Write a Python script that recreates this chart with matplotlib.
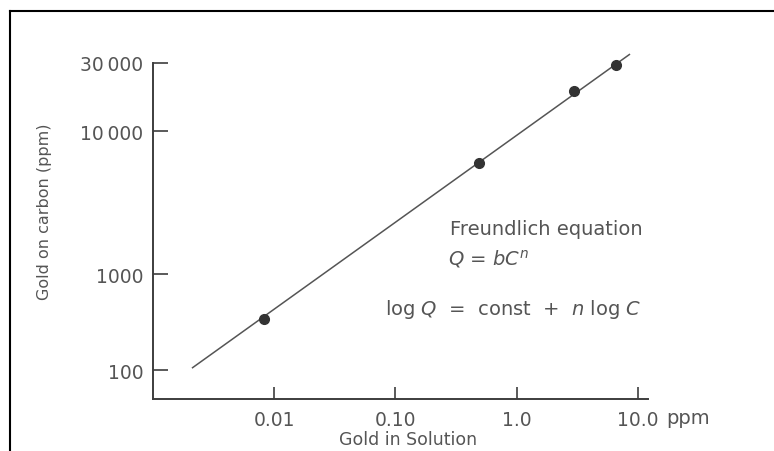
import numpy as np
import matplotlib
matplotlib.use("Agg")
import matplotlib.pyplot as plt
from matplotlib.lines import Line2D
from matplotlib.ticker import NullLocator

plt.rcParams['font.family'] = ['DejaVu Sans']
plt.rcParams['mathtext.fontset'] = 'dejavusans'

# measured isotherm points: gold in solution (ppm) vs gold on carbon (ppm)
conc = [0.0083, 0.49, 2.97, 6.6]
loading = [340, 5970, 19200, 29000]

# fitted Freundlich line, end to end
fit_conc = [0.00212, 8.5]
fit_loading = [106, 34400]

xticks = [0.01, 0.1, 1.0, 10.0]
xtick_labels = ['0.01', '0.10', '1.0', '10.0']
yticks = [100, 1000, 10000, 30000]
ytick_labels = ['100', '1000', '10\u2009000', '30\u2009000']

# the bottom decade of the carbon axis is drawn compressed
LOWER = 96 / 143


def fwd(q):
    q = np.asarray(q, dtype=float)
    with np.errstate(divide='ignore', invalid='ignore'):
        lq = np.log10(q)
    return np.where(lq >= 3, lq, 3 - (3 - lq) * LOWER)


def inv(u):
    u = np.asarray(u, dtype=float)
    return np.where(u >= 3, 10.0 ** u, 10.0 ** (3 - (3 - u) / LOWER))


text_c = '#555555'
axis_c = '#3d3d3d'

fig = plt.figure(figsize=(7.74, 4.52), dpi=100)
ax = fig.add_axes([153 / 774, 52 / 452, 495 / 774, 336 / 452])

ax.set_xscale('log')
ax.set_yscale('function', functions=(fwd, inv))
ax.set_xlim(0.001, 12.1)
ax.set_ylim(50, 30000)

ax.plot(fit_conc, fit_loading, color='#555555', lw=1.1, clip_on=False)
ax.plot(conc, loading, 'o', color='#333333', ms=7, clip_on=False)

ax.set_xticks(xticks, labels=xtick_labels)
ax.set_yticks(yticks, labels=ytick_labels)
ax.xaxis.set_minor_locator(NullLocator())
ax.yaxis.set_minor_locator(NullLocator())

for side in ('top', 'right'):
    ax.spines[side].set_visible(False)
for side in ('left', 'bottom'):
    ax.spines[side].set_color(axis_c)
    ax.spines[side].set_linewidth(1.4)

ax.tick_params(axis='y', direction='in', length=10.5, width=1.2, color=axis_c,
               pad=7, labelsize=13.5, labelcolor=text_c)
ax.tick_params(axis='x', direction='in', length=8.5, width=1.2, color=axis_c,
               pad=8, labelsize=13.5, labelcolor=text_c)

ax.set_ylabel('Gold on carbon (ppm)', fontsize=11.5, color=text_c)
ax.yaxis.set_label_coords(-0.205, 0.56)
ax.set_xlabel('Gold in Solution', fontsize=12.5, color=text_c)
ax.xaxis.set_label_coords(0.515, -0.093)

fig.text(666 / 774, 1 - 419 / 452, 'ppm', fontsize=14, color=text_c,
         ha='left', va='center')

fig.text(450 / 774, 1 - 230 / 452, 'Freundlich equation', fontsize=14,
         color=text_c, ha='left', va='center')
fig.text(448 / 774, 1 - 259 / 452, r'$Q$ = $bC^n$', fontsize=14,
         color=text_c, ha='left', va='center')
fig.text(385 / 774, 1 - 310 / 452, r'log $Q$  =  const  +  $n$ log $C$',
         fontsize=14, color=text_c, ha='left', va='center')

# page frame along the top and left edges
fig.add_artist(Line2D([9.5 / 774, 1.0], [1 - 11.5 / 452, 1 - 11.5 / 452],
                      color='black', lw=1.5))
fig.add_artist(Line2D([9.5 / 774, 9.5 / 774], [0.0, 1 - 11.5 / 452],
                      color='black', lw=1.5))

fig.savefig('out.png', dpi=100)
